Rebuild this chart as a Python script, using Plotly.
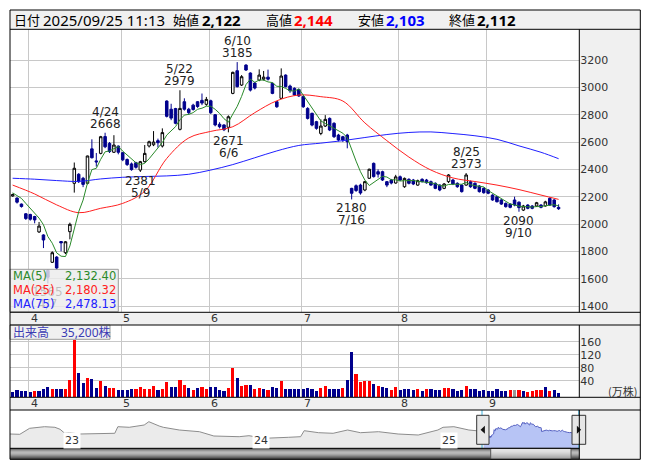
import pandas as pd
import plotly.graph_objects as go

# ---------------- data ----------------
holidays = ["2025-04-29", "2025-05-05", "2025-05-06", "2025-07-21",
            "2025-08-11", "2025-09-15", "2025-09-23"]
dates = [d for d in pd.bdate_range("2025-03-26", "2025-09-25")
         if d.strftime("%Y-%m-%d") not in holidays]

opens = [2205, 2190, 2146, 2075, 2070, 2055, 1942, 1920, 1660, 1720,
         1758, 1872, 1790, 1944, 2298, 2364, 2335, 2298, 2550, 2462,
         2517, 2640, 2590, 2525, 2570, 2522, 2472, 2440, 2449, 2395,
         2456, 2571, 2580, 2610, 2571, 2900, 2840, 2845, 2693, 2895,
         2840, 2870, 2895, 2905, 2876, 2902, 2800, 2730, 2725, 2708,
         2956, 3122, 3017, 3163, 3105, 3032, 3053, 3060, 3075, 3030,
         2895, 2920, 3090, 3010, 2993, 2985, 2932, 2846, 2810, 2749,
         2663, 2717, 2773, 2737, 2651, 2639, 2651, 2261, 2280, 2285,
         2249, 2335, 2444, 2383, 2383, 2310, 2322, 2300, 2346, 2273,
         2327, 2322, 2285, 2327, 2322, 2310, 2298, 2285, 2261, 2310,
         2322, 2298, 2285, 2285, 2310, 2298, 2278, 2261, 2249, 2212,
         2200, 2176, 2151, 2146, 2176, 2160, 2102, 2139, 2132, 2132,
         2139, 2132, 2188, 2176, 2122]
highs = [2222, 2195, 2150, 2080, 2075, 2060, 2015, 1925, 1668, 1800,
         1765, 1875, 1875, 2010, 2450, 2372, 2345, 2500, 2620, 2520,
         2645, 2668, 2600, 2650, 2575, 2528, 2480, 2450, 2455, 2462,
         2578, 2610, 2680, 2625, 2700, 2905, 2880, 2850, 2979, 2920,
         2850, 2880, 2900, 2955, 2930, 2910, 2805, 2745, 2730, 2795,
         3115, 3185, 3090, 3170, 3110, 3040, 3132, 3120, 3130, 3035,
         2900, 3139, 3095, 3020, 3000, 2990, 2940, 2855, 2815, 2755,
         2766, 2797, 2780, 2745, 2660, 2645, 2660, 2265, 2290, 2295,
         2315, 2405, 2450, 2400, 2390, 2315, 2330, 2360, 2355, 2340,
         2335, 2330, 2325, 2335, 2330, 2318, 2305, 2290, 2300, 2365,
         2330, 2305, 2290, 2373, 2318, 2305, 2285, 2268, 2255, 2218,
         2205, 2182, 2158, 2152, 2200, 2165, 2140, 2145, 2138, 2162,
         2145, 2170, 2195, 2182, 2144]
lows = [2200, 2150, 2120, 2030, 2025, 2005, 1935, 1824, 1565, 1715,
        1665, 1800, 1780, 1888, 2230, 2300, 2270, 2290, 2480, 2420,
        2510, 2555, 2520, 2520, 2510, 2460, 2425, 2390, 2405, 2381,
        2450, 2560, 2570, 2560, 2560, 2780, 2760, 2730, 2685, 2830,
        2800, 2830, 2850, 2870, 2865, 2805, 2715, 2700, 2680, 2671,
        2950, 3000, 3010, 3120, 2970, 2985, 3045, 3050, 3050, 2950,
        2850, 2915, 3000, 2960, 2940, 2930, 2850, 2765, 2715, 2690,
        2650, 2710, 2680, 2630, 2605, 2600, 2554, 2180, 2235, 2215,
        2240, 2330, 2340, 2340, 2315, 2270, 2290, 2295, 2315, 2265,
        2290, 2285, 2280, 2305, 2295, 2280, 2255, 2240, 2255, 2300,
        2285, 2265, 2230, 2280, 2265, 2255, 2230, 2222, 2218, 2170,
        2158, 2140, 2120, 2115, 2130, 2090, 2095, 2108, 2108, 2125,
        2115, 2128, 2132, 2120, 2103]
closes = [2215, 2160, 2128, 2040, 2035, 2030, 1985, 1883, 1610, 1790,
          1678, 1862, 1870, 1998, 2408, 2310, 2290, 2498, 2485, 2455,
          2639, 2565, 2530, 2578, 2525, 2470, 2435, 2398, 2415, 2456,
          2517, 2602, 2600, 2595, 2669, 2788, 2775, 2737, 2846, 2840,
          2815, 2838, 2860, 2885, 2912, 2815, 2725, 2712, 2690, 2785,
          3110, 3005, 3078, 3127, 2980, 2995, 3090, 3075, 3060, 2956,
          2858, 3083, 3005, 2975, 2944, 2937, 2858, 2773, 2724, 2700,
          2717, 2766, 2688, 2639, 2615, 2615, 2602, 2225, 2245, 2227,
          2310, 2401, 2347, 2365, 2322, 2285, 2300, 2345, 2322, 2334,
          2298, 2293, 2317, 2310, 2302, 2285, 2261, 2249, 2293, 2359,
          2293, 2273, 2237, 2359, 2273, 2261, 2237, 2229, 2225, 2176,
          2163, 2146, 2127, 2122, 2139, 2120, 2132, 2115, 2115, 2156,
          2122, 2162, 2139, 2127, 2112]
pre_closes = [2250, 2240, 2225, 2210]   # closes of the 4 days before the window (for MA5)

# volume in 万株 and direction (1 up, -1 down, 0 unchanged)
volume = [6, 11, 8, 8, 5, 8, 8, 14, 21, 14,
          14, 14, 14, 42, 165, 65, 34, 48, 45, 18,
          39, 24, 18, 18, 11, 11, 11, 14, 14, 21,
          14, 14, 24, 11, 14, 36, 21, 21, 42, 27,
          18, 11, 18, 21, 14, 21, 21, 11, 9, 18,
          79, 48, 24, 27, 27, 14, 18, 14, 11, 21,
          18, 39, 14, 14, 14, 14, 14, 18, 14, 8,
          18, 24, 14, 14, 14, 18, 42, 129, 61, 37,
          39, 39, 30, 24, 21, 18, 11, 21, 11, 14,
          14, 11, 14, 8, 14, 14, 11, 11, 18, 18,
          14, 8, 11, 24, 14, 14, 9, 11, 8, 8,
          14, 8, 8, 11, 11, 11, 8, 5, 8, 11,
          11, 21, 8, 11, 3.52]
vol_dir = [-1, -1, -1, -1, -1, 1, -1, -1, -1, 1,
           -1, -1, 1, 1, 1, -1, -1, 1, -1, -1,
           1, -1, 1, 1, -1, -1, -1, -1, 1, 1,
           1, 1, 1, -1, 1, 1, -1, -1, 1, 1,
           -1, 1, -1, 1, 1, -1, -1, -1, -1, 1,
           1, -1, 1, 1, -1, 1, 1, -1, 1, -1,
           -1, 1, -1, -1, -1, -1, -1, -1, -1, -1,
           1, 1, -1, -1, -1, 1, -1, -1, 1, 1,
           1, 1, -1, 1, -1, -1, 1, 1, -1, -1,
           -1, -1, 1, -1, 1, -1, -1, -1, 1, 1,
           -1, -1, -1, 1, -1, -1, -1, -1, -1, -1,
           -1, -1, -1, 1, 0, 1, -1, 1, 1, 1,
           1, -1, 1, -1, -1]

# moving averages (every 5 trading days)
ma_idx = [0, 5, 10, 15, 20, 25, 30, 35, 40, 45, 50, 55, 60, 65, 70, 75,
          80, 85, 90, 95, 100, 105, 110, 115, 120, 124]
ma25 = [2285, 2220, 2140, 2083, 2115, 2151, 2240, 2480, 2630, 2678, 2712, 2815, 2902,
        2944, 2932, 2900, 2740, 2610, 2490, 2395, 2337, 2311, 2285, 2252, 2212, 2180.32]
ma75 = [2335, 2328, 2318, 2312, 2330, 2342, 2348, 2352, 2364, 2395, 2435, 2485, 2535,
        2575, 2592, 2610, 2633, 2655, 2670, 2674, 2662, 2646, 2620, 2572, 2525, 2478.13]

# navigator history (weekly-ish closes read from the overview strip)
nav_dates = ["2022-09-20", "2022-10-09", "2022-10-28", "2022-11-26", "2022-12-16", "2022-12-26",
             "2023-01-04", "2023-01-13", "2023-02-02", "2023-03-13", "2023-04-11", "2023-04-17",
             "2023-05-09", "2023-06-07", "2023-06-16", "2023-07-06", "2023-07-14", "2023-08-14",
             "2023-09-22", "2023-10-20", "2023-12-08", "2023-12-27", "2024-01-25", "2024-03-13",
             "2024-04-05", "2024-04-12", "2024-05-10", "2024-06-07", "2024-07-05", "2024-07-30",
             "2024-09-03", "2024-10-11", "2024-11-19", "2024-12-27", "2025-01-06", "2025-01-27",
             "2025-02-25", "2025-03-11", "2025-03-25"]
nav_vals = [1985, 1956, 2541, 2697, 2639, 2444, 2054, 2112, 1985, 1985,
            2054, 2697, 2639, 2863, 3185, 2765, 2639, 2375, 2210, 1790,
            1722, 1820, 1566, 1664, 1722, 2307, 2112, 2054, 2375, 2112,
            2210, 1985, 1888, 2375, 2639, 2697, 2375, 2307, 2250]
year_labels = ["23", "24", "25"]

marks = [(8, "low"), (21, "high"), (29, "low"), (38, "high"), (49, "low"),
         (51, "high"), (77, "low"), (103, "high"), (115, "low")]
price_ticks = [1400, 1600, 1800, 2000, 2200, 2400, 2600, 2800, 3000, 3200]
vol_ticks = [40, 80, 120, 160]

# ---------------- derived ----------------
idx = list(range(len(dates)))
ext = pre_closes + closes
ma5 = [sum(ext[k:k + 5]) / 5 for k in range(len(closes))]
month_starts = [i for i in idx if i > 0 and dates[i].month != dates[i - 1].month]
grid_x = [i - 0.35 for i in month_starts]

W, H = 653, 470
def px(x): return x / W
def py(y): return 1 - y / H

L, R, RA = 10, 640.3, 579.3
T_HDR, B_HDR, B_MAIN, T_VOL, B_VOL, T_NAV, B_NAV, B_ALL = 10, 29.3, 312.3, 325, 397.3, 410, 448.3, 459.3

NAVY = "#00008c"
GRID = "#c8c8c8"
PANEL = "#f0f0f0"
C5, C25, C75 = "#2a8a2a", "#ff2020", "#2020ff"
FNUM = "DejaVu Sans"
FHDR = "Noto Sans, Noto Sans CJK JP"
FJP = "Noto Sans CJK JP"

fig = go.Figure()
fig.add_trace(go.Candlestick(
    x=idx, open=opens, high=highs, low=lows, close=closes,
    increasing=dict(line=dict(color="#000000", width=1), fillcolor="#ffffff"),
    decreasing=dict(line=dict(color=NAVY, width=1), fillcolor=NAVY),
    whiskerwidth=0, hoverinfo="skip", showlegend=False, xaxis="x", yaxis="y"))
fig.add_trace(go.Scatter(x=ma_idx, y=ma75, mode="lines", line=dict(color=C75, width=1, shape="spline"),
                         hoverinfo="skip", showlegend=False))
fig.add_trace(go.Scatter(x=ma_idx, y=ma25, mode="lines", line=dict(color=C25, width=1, shape="spline"),
                         hoverinfo="skip", showlegend=False))
fig.add_trace(go.Scatter(x=idx, y=ma5, mode="lines", line=dict(color=C5, width=1),
                         hoverinfo="skip", showlegend=False))

vcol = {1: "#ff0000", -1: NAVY, 0: "#999999"}
VBASE = -11
fig.add_trace(go.Bar(x=idx, y=[v - VBASE for v in volume], base=VBASE,
                     marker=dict(color=[vcol[d] for d in vol_dir], line=dict(width=0)),
                     width=0.72, hoverinfo="skip", showlegend=False, xaxis="x2", yaxis="y2"))

# navigator
hist_x = nav_dates + [dates[0].strftime("%Y-%m-%d")]
hist_y = nav_vals + [closes[0]]
fig.add_trace(go.Scatter(x=hist_x, y=hist_y, mode="lines", line=dict(color="#8c8c8c", width=1),
                         fill="tozeroy", fillcolor="#ebebeb", hoverinfo="skip", showlegend=False,
                         xaxis="x3", yaxis="y3"))
fig.add_trace(go.Scatter(x=[d.strftime("%Y-%m-%d") for d in dates], y=closes, mode="lines",
                         line=dict(color="#5560c0", width=1), fill="tozeroy", fillcolor="#b7c4f5",
                         hoverinfo="skip", showlegend=False, xaxis="x3", yaxis="y3"))

# ---------------- shapes ----------------
shapes = []
def rect(x0, y0, x1, y1, fill=None, line=None, lw=1, layer="below"):
    shapes.append(dict(type="rect", xref="paper", yref="paper", x0=px(x0), x1=px(x1),
                       y0=py(y1), y1=py(y0), fillcolor=fill or "rgba(0,0,0,0)",
                       line=dict(color=line or "rgba(0,0,0,0)", width=lw if line else 0), layer=layer))
def seg(x0, y0, x1, y1, color="#000", lw=1, layer="above"):
    shapes.append(dict(type="line", xref="paper", yref="paper", x0=px(x0), x1=px(x1),
                       y0=py(y0), y1=py(y1), line=dict(color=color, width=lw), layer=layer))
def poly(pts, fill):
    path = "M " + " L ".join(f"{px(x)},{py(y)}" for x, y in pts) + " Z"
    shapes.append(dict(type="path", xref="paper", yref="paper", path=path, fillcolor=fill,
                       line=dict(width=0), layer="above"))

rect(L, T_HDR, R, B_HDR, PANEL)
rect(RA, B_HDR, R, B_MAIN, PANEL)
rect(L, B_MAIN, R, T_VOL, PANEL)
rect(RA, T_VOL, R, B_VOL, PANEL)
rect(L, B_VOL, R, T_NAV, PANEL)
rect(RA, T_NAV, R, B_ALL, PANEL)

# MA legend box and volume title box
rect(L, 269.3, 118.3, 311.7, "rgba(236,236,236,0.82)", "#999999", 1, "above")
rect(L, T_VOL, 110, 339.3, PANEL, "#999999", 1, "above")

# navigator selection edges
seg(482, T_NAV, 482, B_NAV, "#3cb4e0")
seg(RA - 0.5, T_NAV, RA - 0.5, B_NAV, "#3cb4e0")

# scrollbar (vertical gradient imitation)
sb_cols = ["#2a2a2a", "#6a6a6a", "#8e8e8e", "#a6a6a6", "#b0b0b0", "#a8a8a8",
           "#969696", "#7e7e7e", "#626262", "#474747", "#303030"]
hh = (B_ALL - B_NAV) / len(sb_cols)
for k, c in enumerate(sb_cols):
    rect(L, B_NAV + k * hh, RA, B_NAV + (k + 1) * hh + 0.3, c, layer="above")
th_cols = ["#fafafa", "#f2f2f2", "#ececec", "#e4e4e4", "#dcdcdc", "#d4d4d4",
           "#cccccc", "#c4c4c4", "#bcbcbc", "#b4b4b4", "#acacac"]
for k, c in enumerate(th_cols):
    rect(490.7, B_NAV + k * hh, 571, B_NAV + (k + 1) * hh + 0.3, c, layer="above")
rect(490.7, B_NAV, 571, B_ALL, None, "#555555", 1, "above")

# handles
for (hx0, hx1, pointing) in [(476.7, 489, "left"), (572, 585.7, "right")]:
    rect(hx0, 415.3, hx1, 444.3, "#e6e6e6", "#333333", 1, "above")
    cx = (hx0 + hx1) / 2
    if pointing == "left":
        poly([(cx - 2.3, 429.8), (cx + 2, 425.8), (cx + 2, 433.8)], "#111111")
    else:
        poly([(cx + 2.3, 429.8), (cx - 2, 425.8), (cx - 2, 433.8)], "#111111")

# panel separators and frame
for y in (B_HDR, B_MAIN, T_VOL, B_VOL, T_NAV):
    seg(L, y, R, y)
seg(L, B_NAV, RA, B_NAV)
for (y0, y1) in ((B_HDR, B_MAIN), (T_VOL, B_VOL), (T_NAV, B_ALL)):
    seg(RA, y0, RA, y1)
rect(L, T_HDR, R, B_ALL, None, "#000000", 1, "above")

# ---------------- annotations ----------------
ann = []
def text(x, y, s, size=11, color="#000", anchor="left", font=FNUM, xref="paper", yref="paper",
         yanchor="middle", **kw):
    ann.append(dict(x=x, y=y, xref=xref, yref=yref, text=s, showarrow=False, xanchor=anchor,
                    yanchor=yanchor, font=dict(family=font, size=size, color=color), **kw))

yh = py(19.8)
o, h, l, c = opens[-1], highs[-1], lows[-1], closes[-1]
text(px(11.5), yh, "日付", 13, font=FHDR)
text(px(40.5), yh, dates[-1].strftime("%Y/%m/%d") + " 11:13", 15, font=FHDR)
text(px(170.5), yh, "始値", 13, font=FHDR)
text(px(199.5), yh, f"<b>{o:,}</b>", 15, font=FHDR)
text(px(263.5), yh, "高値", 13, font=FHDR)
text(px(291.5), yh, f"<b>{h:,}</b>", 15, "#ff0000", font=FHDR)
text(px(355.5), yh, "安値", 13, font=FHDR)
text(px(383.5), yh, f"<b>{l:,}</b>", 15, "#0000ff", font=FHDR)
text(px(446.5), yh, "終値", 13, font=FHDR)
text(px(474.5), yh, f"<b>{c:,}</b>", 15, font=FHDR)

# month labels in both strips
for gx, i in zip(grid_x, month_starts):
    for yc in ((B_MAIN + T_VOL) / 2, (B_VOL + T_NAV) / 2):
        text(gx, py(yc), str(dates[i].month), 11, "#333333", xref="x", xshift=0)

# high / low marks
for i, kind in marks:
    d = f"{dates[i].month}/{dates[i].day}"
    if kind == "high":
        text(i, highs[i], f"{highs[i]}", 12, "#222222", "center", xref="x", yref="y",
             yanchor="bottom", yshift=0)
        text(i, highs[i], d, 12, "#222222", "center", xref="x", yref="y",
             yanchor="bottom", yshift=12)
    else:
        col = "rgba(40,40,40,0.25)" if lows[i] < 1672 else "#222222"
        text(i, lows[i], f"{lows[i]}", 12, col, "center", xref="x", yref="y",
             yanchor="top", yshift=0)
        text(i, lows[i], d, 12, col, "center", xref="x", yref="y",
             yanchor="top", yshift=-12)

# MA legend
for k, (lab, col, val) in enumerate([("MA(5)", C5, ma5[-1]), ("MA(25)", C25, ma25[-1]),
                                     ("MA(75)", C75, ma75[-1])]):
    yy = py(275.8 + k * 14)
    text(px(10.5), yy, lab, 11.5, col)
    text(px(118), yy, f"{val:,.2f}", 11.5, col, "right")

# volume title and unit
text(px(10.5), py(332.3), f"出来高　{volume[-1] * 10000:,.0f}株", 12, "#3c3cb4", font=FHDR)
text(px(639), py(390.5), "(万株)", 11, "#333333", "right", font=FJP)

# navigator year labels
for k, yl in enumerate(year_labels):
    text(f"20{yl}-01-01", py(440), yl, 11, "#333333", xref="x3", bgcolor="#ffffff", borderpad=1)

fig.update_layout(
    width=W, height=H, margin=dict(l=0, r=0, t=0, b=0),
    paper_bgcolor="#ffffff", plot_bgcolor="rgba(0,0,0,0)",
    hovermode=False, dragmode=False, showlegend=False, bargap=0, boxgap=0.18,
    shapes=shapes, annotations=ann,
    xaxis=dict(domain=[px(L), px(RA)], range=[-0.6, 128.7], tickvals=grid_x, showticklabels=False,
               showgrid=True, gridcolor=GRID, gridwidth=1, zeroline=False, ticks="",
               rangeslider=dict(visible=False), fixedrange=True, automargin=False, anchor="y"),
    yaxis=dict(domain=[py(B_MAIN), py(B_HDR)], range=[1354, 3425], tickvals=price_ticks,
               side="right", showgrid=True, gridcolor=GRID, zeroline=False, ticks="",
               tickfont=dict(family=FNUM, size=11, color="#333333"), fixedrange=True,
               automargin=False, anchor="x"),
    xaxis2=dict(domain=[px(L), px(RA)], range=[-0.6, 128.7], tickvals=grid_x, showticklabels=False,
                showgrid=True, gridcolor=GRID, zeroline=False, ticks="", fixedrange=True,
                automargin=False, anchor="y2"),
    yaxis2=dict(domain=[py(B_VOL), py(T_VOL)], range=[VBASE, 211.4], tickvals=vol_ticks,
                side="right", showgrid=True, gridcolor=GRID, zeroline=False, ticks="",
                tickfont=dict(family=FNUM, size=11, color="#333333"), fixedrange=True,
                automargin=False, anchor="x2"),
    xaxis3=dict(domain=[px(L), px(RA)], type="date", range=["2022-09-20", "2025-09-27"],
                showgrid=False, showticklabels=False, zeroline=False, ticks="", fixedrange=True,
                automargin=False, anchor="y3"),
    yaxis3=dict(domain=[py(B_NAV), py(T_NAV)], range=[591, 4325], showgrid=False,
                showticklabels=False, zeroline=False, ticks="", fixedrange=True,
                automargin=False, anchor="x3"),
)

fig.write_html("out.html", config={"displayModeBar": False},
               post_script="document.body.style.margin='0px';document.body.style.padding='0px';")
